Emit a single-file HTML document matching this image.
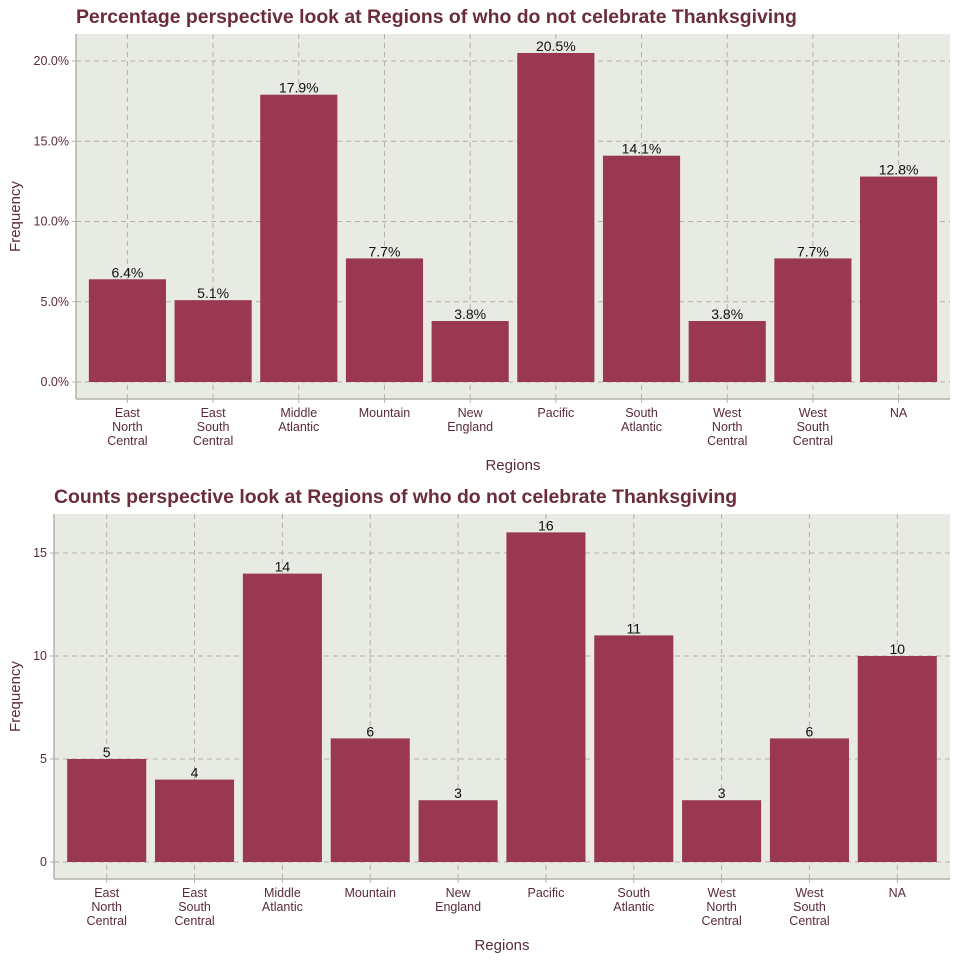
<!DOCTYPE html>
<html><head><meta charset="utf-8"><style>
body{margin:0;background:#fff}
svg text{font-family:"Liberation Sans",Arial,sans-serif}
</style></head><body>
<svg id="s" width="960" height="960" xmlns="http://www.w3.org/2000/svg"></svg>
<script>
const categories=[["East","North","Central"],["East","South","Central"],["Middle","Atlantic"],["Mountain"],["New","England"],["Pacific"],["South","Atlantic"],["West","North","Central"],["West","South","Central"],["NA"]];
const percentValues=[6.4,5.1,17.9,7.7,3.8,20.5,14.1,3.8,7.7,12.8];
const percentLabels=["6.4%","5.1%","17.9%","7.7%","3.8%","20.5%","14.1%","3.8%","7.7%","12.8%"];
const percentTicks=[0,5,10,15,20];
const percentTickLabels=["0.0%","5.0%","10.0%","15.0%","20.0%"];
const countValues=[5,4,14,6,3,16,11,3,6,10];
const countTicks=[0,5,10,15];
const countTickLabels=["0","5","10","15"];
const NS="http://www.w3.org/2000/svg";
const svg=document.getElementById('s');
function mk(t,a,p){const e=document.createElementNS(NS,t);for(const k in a)e.setAttribute(k,a[k]);(p||svg).appendChild(e);return e;}
function panel(o){
  const g=mk('g',{});
  
  
  const t=mk('text',{x:o.x0,y:o.ty,fill:'#6b2d3a','font-size':19.4,'font-weight':'bold'},g);t.textContent=o.title;
  
  
  const bg=mk('rect',{x:o.x0,y:o.y0,width:o.x1-o.x0,height:o.y1-o.y0,fill:'#e8eae4'},g);
  
  
  const n=categories.length;
  const step=(o.x1-o.x0)/(n+0.2);
  const xc=i=>o.x0+step*(0.6+i);
  const y=v=>o.zy-(v/o.unit)*o.upx;
  o.ticks.forEach((v,i)=>{
    mk('line',{x1:o.x0,x2:o.x1,y1:y(v),y2:y(v),stroke:'#b4b2a8','stroke-dasharray':'5,4'},g);
    mk('line',{x1:o.x0-4,x2:o.x0,y1:y(v),y2:y(v),stroke:'#b4b2a8'},g);
    const tl=mk('text',{x:o.x0-7,y:y(v)+4,'text-anchor':'end',fill:'#5a2b3a','font-size':12.5},g);tl.textContent=o.tickLabels[i];
    
    
  });
  categories.forEach((c,i)=>{
    mk('line',{x1:xc(i),x2:xc(i),y1:o.y0,y2:o.y1,stroke:'#b4b2a8','stroke-dasharray':'5,4'},g);
    mk('line',{x1:xc(i),x2:xc(i),y1:o.y1,y2:o.y1+4,stroke:'#b4b2a8'},g);
  });
  const bw=step*0.9;
  o.values.forEach((v,i)=>{
    const b=mk('rect',{x:xc(i)-bw/2,y:y(v),width:bw,height:o.zy-y(v),fill:'#993850'},g);
    
    
    const l=mk('text',{x:xc(i),y:y(v)-2,'text-anchor':'middle',fill:'#111','font-size':14},g);l.textContent=o.labels[i];
    
    
  });
  mk('line',{x1:o.x0,x2:o.x0,y1:o.y0,y2:o.y1,stroke:'#b4b2a8','stroke-width':1.5},g);
  mk('line',{x1:o.x0,x2:o.x1,y1:o.y1,y2:o.y1,stroke:'#b4b2a8','stroke-width':1.5},g);
  categories.forEach((c,i)=>{
    c.forEach((w,j)=>{
      const tx=mk('text',{x:xc(i),y:o.y1+18+j*14,'text-anchor':'middle',fill:'#5a2b3a','font-size':12.5},g);tx.textContent=w;
      
      
    });
  });
  const xt=mk('text',{x:(o.x0+o.x1)/2,y:o.y1+71,'text-anchor':'middle',fill:'#5a2b3a','font-size':15},g);xt.textContent='Regions';
  
  
  const yt=mk('text',{x:0,y:0,'text-anchor':'middle',fill:'#5a2b3a','font-size':15,transform:`translate(20,${(o.y0+o.y1)/2}) rotate(-90)`},g);yt.textContent='Frequency';
  
  
}
panel({name:'percentage-chart',title:'Percentage perspective look at Regions of who do not celebrate Thanksgiving',ty:23,x0:76,x1:950,y0:34,y1:399,zy:382,unit:5,upx:80.25,ticks:percentTicks,tickLabels:percentTickLabels,values:percentValues,labels:percentLabels});
panel({name:'counts-chart',title:'Counts perspective look at Regions of who do not celebrate Thanksgiving',ty:503,x0:54,x1:950,y0:514,y1:879,zy:862,unit:5,upx:103,ticks:countTicks,tickLabels:countTickLabels,values:countValues,labels:countValues.map(String)});
</script>
</body></html>
